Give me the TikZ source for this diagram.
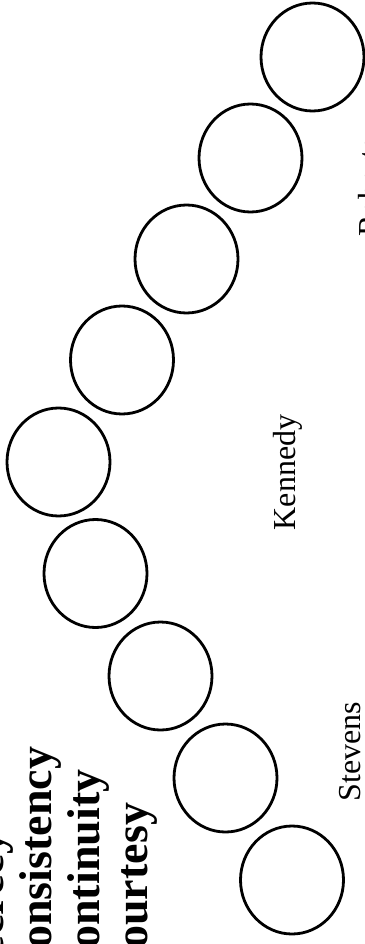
\documentclass[tikz,border=0pt]{standalone}
\usepackage{fontspec}
\setmainfont{Liberation Serif}
\usetikzlibrary{shapes.geometric}
\begin{document}
\begin{tikzpicture}[x=1pt, y=-1pt,
  seat/.style={draw, ellipse, line width=2.8pt, minimum width=103pt, minimum height=108pt, inner sep=0pt},
  norm/.style={rotate=90, anchor=base west, inner sep=0pt, font=\fontsize{46}{48}\selectfont\bfseries},
  justice/.style={rotate=90, anchor=base, inner sep=0pt, font=\fontsize{32}{36}\selectfont}]
\useasboundingbox (0,0) rectangle (364,944);

\node[seat] (seat1) at (312.5,57) {};
\node[seat] (seat2) at (250.5,158) {};
\node[seat] (seat3) at (186.5,259) {};
\node[seat] (seat4) at (122,360) {};
\node[seat] (seat5) at (58.5,462) {};
\node[seat] (seat6) at (95.5,573.5) {};
\node[seat] (seat7) at (160.5,676) {};
\node[seat] (seat8) at (225.5,778) {};
\node[seat] (seat9) at (292,880) {};

\node[norm] (secrecy) at (4,982) {Secrecy};
\node[norm] (consistency) at (51.7,982) {Consistency};
\node[norm] (continuity) at (99.4,982) {Continuity};
\node[norm] (courtesy) at (147.1,982) {Courtesy};

\node[justice] (kennedy) at (295,472.5) {Kennedy};
\node[justice] (stevens) at (360.5,751.5) {Stevens};
\node[justice, anchor=base west] (roberts) at (380.5,237) {Roberts};
\end{tikzpicture}
\end{document}
